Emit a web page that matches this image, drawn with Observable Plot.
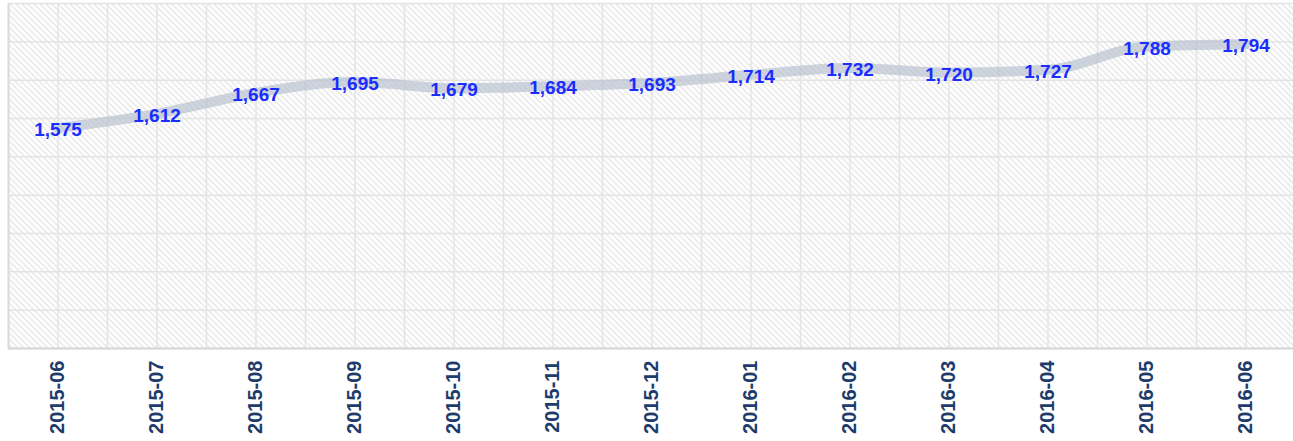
<!DOCTYPE html>
<html><head><meta charset="utf-8">
<script src="https://cdn.jsdelivr.net/npm/d3@7"></script>
<script src="https://cdn.jsdelivr.net/npm/@observablehq/plot@0.6"></script>
<style>body{margin:0;background:#fff;}</style>
</head><body><div id="chart"></div>
<script>
const months = ["2015-06","2015-07","2015-08","2015-09","2015-10","2015-11","2015-12","2016-01","2016-02","2016-03","2016-04","2016-05","2016-06"];
const values = [1575,1612,1667,1695,1679,1684,1693,1714,1732,1720,1727,1788,1794];
const yDomain = [1000, 1900];
const yTicks = d3.range(1000, 1901, 100);

const data = months.map((m, i) => ({i, month: m, value: values[i]}));
const halfSteps = d3.range(-0.5, months.length, 0.5);

const chart = Plot.plot({
  width: 1293,
  height: 441,
  marginTop: 3,
  marginBottom: 93,
  marginLeft: 8,
  marginRight: 0,
  style: {fontFamily: "Liberation Sans, Arial, sans-serif", background: "#fff"},
  x: {type: "linear", domain: [-0.5, months.length - 0.5], range: [8, 1295]},
  y: {domain: yDomain, axis: null},
  marks: [
    Plot.frame({fill: "url(#hatch)", stroke: null}),
    Plot.ruleY(yTicks, {stroke: "#e4e4e4", strokeWidth: 1.5}),
    Plot.ruleX(halfSteps, {stroke: "#e4e4e4", strokeWidth: 1.5}),
    Plot.ruleY([yDomain[0]], {stroke: "#d6d6d6", strokeWidth: 2}),
    Plot.ruleX([-0.5], {stroke: "#dcdcdc", strokeWidth: 2}),
    Plot.axisX(d3.range(months.length), {
      tickFormat: i => months[i], tickSize: 0, tickPadding: 12, tickRotate: -90,
      fontSize: 20, fontWeight: "bold", fill: "#1d3b6b", label: null
    }),
    Plot.line(data, {x: "i", y: "value", stroke: "#b4bfcc", strokeOpacity: 0.65, strokeWidth: 10, curve: "monotone-x"}),
    Plot.text(data, {x: "i", y: "value", text: d => d3.format(",")(d.value), fill: "#1a2dff", fontSize: 19, fontWeight: "bold", dy: 2})
  ]
});

chart.insertAdjacentHTML("afterbegin",
  `<defs><pattern id="hatch" patternUnits="userSpaceOnUse" width="6" height="6">
     <rect width="6" height="6" fill="#fff"/>
     <path d="M-1,-1 L7,7 M-1,5 L1,7 M5,-1 L7,1" stroke="#dedede" stroke-width="1.1"/>
   </pattern></defs>`);
document.getElementById("chart").appendChild(chart);
</script>
</body></html>
